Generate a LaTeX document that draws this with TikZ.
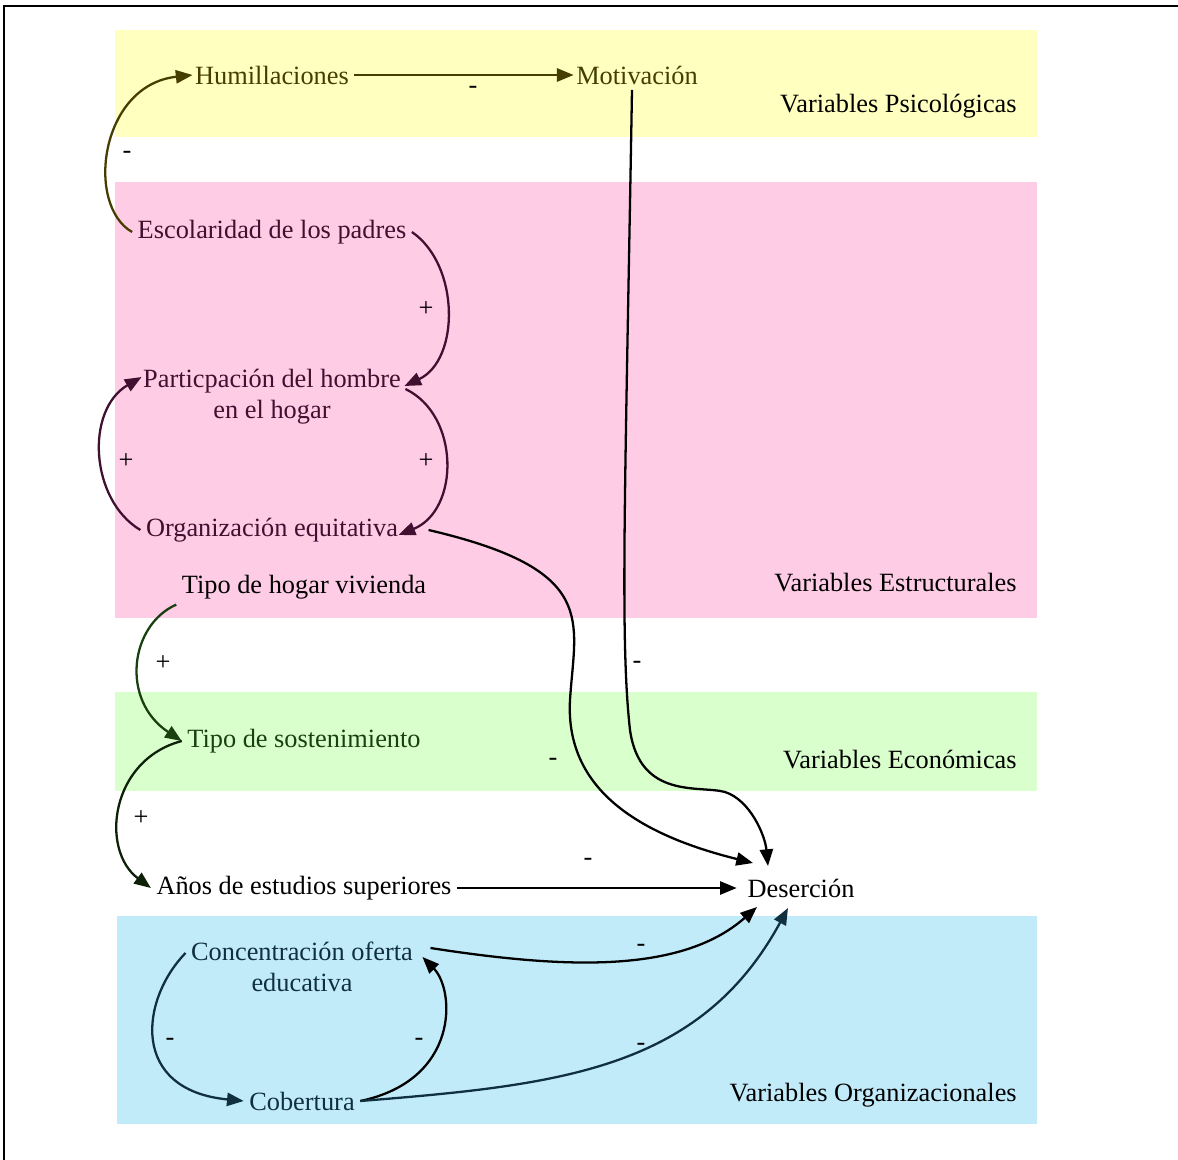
\documentclass[tikz,border=0pt]{standalone}
\usepackage{fontspec}
\setmainfont{Liberation Serif}
\usetikzlibrary{arrows.meta,calc}
\definecolor{psiband}{RGB}{255,255,192}
\definecolor{estband}{RGB}{255,204,229}
\definecolor{ecoband}{RGB}{217,255,204}
\definecolor{orgband}{RGB}{194,235,250}
\definecolor{olivetxt}{RGB}{70,62,0}
\definecolor{maroontxt}{RGB}{64,16,48}
\definecolor{greentxt}{RGB}{26,64,16}
\definecolor{tealtxt}{RGB}{16,48,64}
\begin{document}
\begin{tikzpicture}[x=0.02cm, y=-0.02cm, font=\fontsize{15}{17.5}\selectfont]
        \tikzstyle{var} = [inner sep=3pt, align=center]
        \tikzstyle{sign} = [inner sep=0pt]
        \tikzstyle{tag} = [anchor=east, inner sep=0pt]
        \tikzstyle{link} = [-{Triangle[length=9.5pt,width=7.5pt]}, line width=1.3pt]

        \useasboundingbox (0,0) rectangle (1178,1160);

        % bands
        \fill[psiband] (115,30) rectangle (1037,137);
        \fill[estband] (115,182) rectangle (1037,618);
        \fill[ecoband] (115,692) rectangle (1037,791);
        \fill[orgband] (117,916) rectangle (1037,1124);
        \draw[line width=1.4pt] (4,1160) -- (4,6) -- (1178,6);

        \node[tag] (lpsi) at (1017,106) {Variables Psicológicas};
        \node[tag] (lest) at (1017,583) {Variables Estructurales};
        \node[tag] (leco) at (1017,760) {Variables Económicas};
        \node[tag] (lorg) at (1017,1095) {Variables Organizacionales};

        % variables
        \node[var, text=olivetxt] (hum) at (272,75) {Humillaciones};
        \node[var, text=olivetxt] (mot) at (637,75) {Motivación};
        \node[var, text=maroontxt] (esc) at (272,232) {Escolaridad de los padres};
        \node[var, text=maroontxt] (part) at (272,397) {Particpación del hombre\\en el hogar};
        \node[var, text=maroontxt] (org) at (272,530) {Organización equitativa};
        \node[var] (hogar) at (304,587) {Tipo de hogar vivienda};
        \node[var, text=greentxt] (sost) at (304,741) {Tipo de sostenimiento};
        \node[var] (anos) at (304,888) {Años de estudios superiores};
        \node[var, inner sep=6pt] (des) at (801,888) {Deserción};
        \node[var, text=tealtxt] (conc) at (302,967) {Concentración oferta\\educativa};
        \node[var, text=tealtxt] (cob) at (302,1101) {Cobertura};

        % links
        \draw[link, olivetxt] (hum.east) -- ($(mot.west)+(3,0)$);
        \draw[link, olivetxt] (esc.west) .. controls (85,205) and (100,85) .. ($(hum.west)+(3,0)$);
        \draw[link, maroontxt] (esc.east) .. controls (460,265) and (460,360) .. ($(part.east)+(-2,-11)$);
        \draw[link, maroontxt] ($(part.east)+(-1,-8)$) .. controls (460,415) and (460,510) .. ($(org.east)+(-5,5)$);
        \draw[link, maroontxt] (org.west) .. controls (90,500) and (85,410) .. ($(part.west)+(4,-20)$);
        \draw[link] ($(org.east)+(25,0)$) .. controls (600,570) and (575,620) .. (570,700)
            .. controls (565,790) and (640,835) .. ($(des)+(-48,-25)$);
        \draw[link] ($(mot.south)+(-5,0)$) .. controls (625,500) and (620,640) .. (630,730)
            .. controls (640,800) and (700,785) .. (725,792)
            .. controls (750,800) and (765,835) .. ($(des)+(-33,-22)$);
        \draw[link, greentxt] (hogar.south west) .. controls (130,625) and (120,700) .. (sost.west);
        \draw[link, greentxt!50!black] (sost.west) .. controls (110,760) and (100,850) .. (anos.west);
        \draw[link] (anos.east) -- (des.west);
        \draw[link] ($(conc.east)+(12,-19)$) .. controls (560,968) and (680,975) .. ($(des)+(-44,19)$);
        \draw[link, tealtxt] ($(conc.west)+(0,-14)$) .. controls (140,1000) and (130,1090) .. (cob.west);
        \draw[link] (cob.east) .. controls (460,1080) and (455,990) .. ($(conc.east)+(4,-10)$);
        \draw[link, tealtxt] (cob.east) .. controls (560,1085) and (700,1070) .. ($(des)+(-13,20)$);

        % signs
        \node[sign] (s1) at (473,90) {-};
        \node[sign] (s2) at (127,155) {-};
        \node[sign] (s3) at (426,309) {+};
        \node[sign] (s4) at (426,461) {+};
        \node[sign] (s5) at (126,461) {+};
        \node[sign] (s6) at (163,663) {+};
        \node[sign] (s7) at (141,818) {+};
        \node[sign] (s8) at (553,762) {-};
        \node[sign] (s9) at (637,665) {-};
        \node[sign] (s10) at (588,862) {-};
        \node[sign] (s11) at (641,948) {-};
        \node[sign] (s12) at (170,1042) {-};
        \node[sign] (s13) at (419,1042) {-};
        \node[sign] (s14) at (641,1047) {-};
    \end{tikzpicture}
\end{document}
